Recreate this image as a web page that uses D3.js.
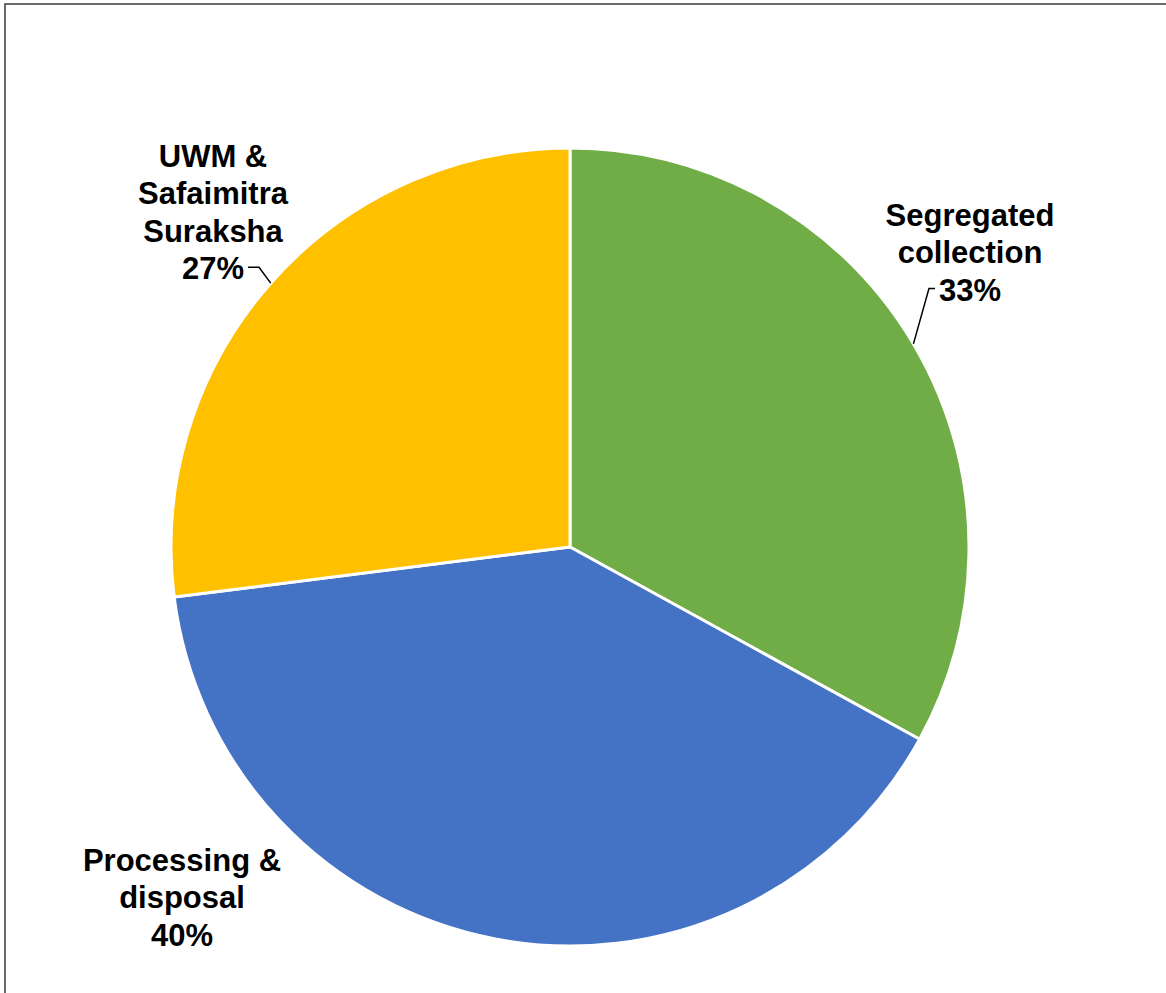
<!DOCTYPE html>
<html>
<head>
<meta charset="utf-8">
<script src="https://cdn.jsdelivr.net/npm/d3@7"></script>
<style>
  html, body { margin: 0; padding: 0; background: #fff; }
  svg { display: block; }
</style>
</head>
<body>
<div id="chart"></div>
<script>
// slice data, clockwise from 12 o'clock
const categories = ["Segregated collection", "Processing & disposal", "UWM & Safaimitra Suraksha"];
const shares = [33, 40, 27];
const colors = ["#70AD47", "#4472C4", "#FFC000"];
// label text lines (as shown in the chart)
const labelLines = [
  ["Segregated", "collection", "33%"],
  ["Processing &", "disposal", "40%"],
  ["UWM &", "Safaimitra", "Suraksha", "27%"]
];

const width = 1166, height = 993;
const cx = 570, cy = 547, radius = 399;

// label placement (center of the text block relative to pie center) and leader lines
const labelLayout = [
  { dx: 400, dy: -295, leader: true, side: "left" },
  { dx: -388, dy: 350, leader: false },
  { dx: -357, dy: -335, leader: true, side: "right" }
];

const svg = d3.select("#chart").append("svg")
    .attr("width", width)
    .attr("height", height);

// chart frame (runs off right/bottom edge)
svg.append("rect")
    .attr("x", 5).attr("y", 4)
    .attr("width", width + 20).attr("height", height + 20)
    .attr("fill", "none")
    .attr("stroke", "#3a3a3a")
    .attr("stroke-width", 1.5);

const pie = d3.pie().sort(null).value(d => d);
const arcs = pie(shares);
const arc = d3.arc().innerRadius(0).outerRadius(radius);

const g = svg.append("g").attr("transform", `translate(${cx},${cy})`);

g.selectAll("path")
  .data(arcs)
  .join("path")
    .attr("d", arc)
    .attr("fill", (d, i) => colors[i])
    .attr("stroke", "#fff")
    .attr("stroke-width", 3)
    .attr("stroke-linejoin", "round");

const fontSize = 31, lineH = 37.5;

arcs.forEach((d, i) => {
  const lay = labelLayout[i];
  const lines = labelLines[i];
  const n = lines.length;
  const top = lay.dy - (n * lineH) / 2;

  const text = g.append("text")
      .attr("text-anchor", "middle")
      .attr("font-family", "Arial, 'Liberation Sans', sans-serif")
      .attr("font-weight", "bold")
      .attr("font-size", fontSize)
      .attr("fill", "#000");

  lines.forEach((l, j) => {
    text.append("tspan")
        .attr("x", lay.dx)
        .attr("y", top + j * lineH + lineH / 2 + fontSize * 0.36)
        .text(l);
  });

  if (lay.leader) {
    const mid = (d.startAngle + d.endAngle) / 2;
    const px = Math.sin(mid) * radius, py = -Math.cos(mid) * radius;
    // last line (percentage) position
    const lastY = top + (n - 1) * lineH + lineH / 2 - 1;
    const lastW = text.selectAll("tspan").nodes()[n - 1].getComputedTextLength();
    let tx, ex;
    if (lay.side === "left") {
      tx = lay.dx - lastW / 2 - 4;
      ex = tx - 6;
    } else {
      tx = lay.dx + lastW / 2 + 4;
      ex = tx + 11;
    }
    g.append("path")
        .attr("d", d3.line()([[px, py], [ex, lastY], [tx, lastY]]))
        .attr("fill", "none")
        .attr("stroke", "#000")
        .attr("stroke-width", 1.5);
  }
});
</script>
</body>
</html>
